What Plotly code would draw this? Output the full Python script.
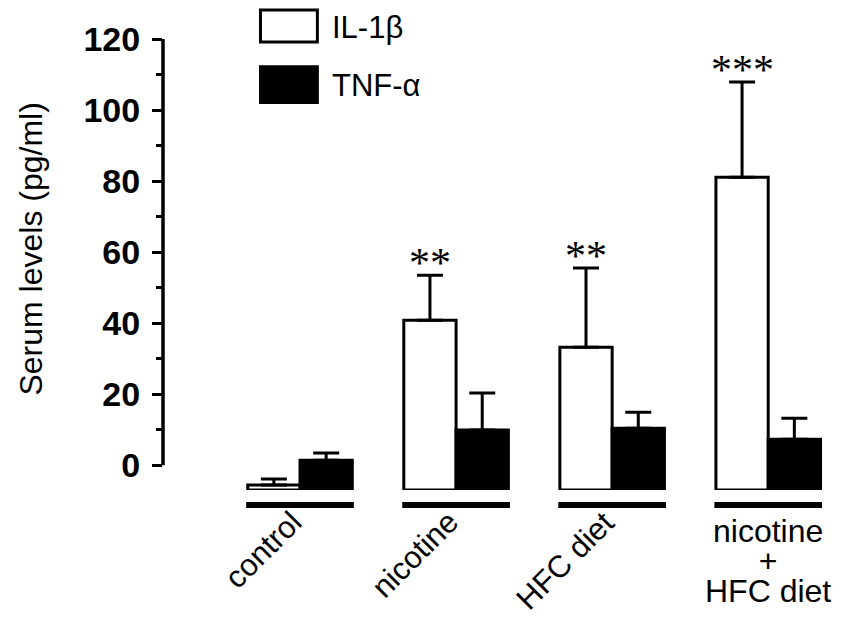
import plotly.graph_objects as go

groups = ["control", "nicotine", "HFC diet", "nicotine<br>+<br>HFC diet"]
il1b = [-5.6, 40.8, 33.2, 81.1]
il1b_err = [1.7, 12.7, 22.3, 26.8]
tnfa = [1.4, 9.9, 10.4, 7.3]
tnfa_err = [2.0, 10.4, 4.5, 5.9]
stars = ["", "**", "**", "***"]
y_ticks = [0, 20, 40, 60, 80, 100, 120]

y_base = -7
x = list(range(len(groups)))
font = "Arial, Liberation Sans, sans-serif"

fig = go.Figure()
fig.add_trace(go.Bar(
    x=x, y=[v - y_base for v in il1b], base=y_base, name="IL-1β",
    marker=dict(color="white", line=dict(color="black", width=3)),
    error_y=dict(type="data", array=il1b_err, arrayminus=[0] * 4, symmetric=False,
                 color="black", thickness=3, width=13),
    showlegend=False
))
fig.add_trace(go.Bar(
    x=x, y=[v - y_base for v in tnfa], base=y_base, name="TNF-α",
    marker=dict(color="black", line=dict(color="black", width=3)),
    error_y=dict(type="data", array=tnfa_err, arrayminus=[0] * 4, symmetric=False,
                 color="black", thickness=3, width=13),
    showlegend=False
))

# significance stars above the IL-1b error bars
for i, s in enumerate(stars):
    if s:
        fig.add_annotation(x=i, y=il1b[i] + il1b_err[i], xref="x", yref="y", text=s,
                           showarrow=False, xshift=-26, yanchor="bottom", yshift=-13,
                           font=dict(family="Liberation Serif, serif", size=42, color="black"))

# group underlines and labels
for i, g in enumerate(groups):
    fig.add_shape(type="line", xref="x", yref="paper", x0=i - 0.345, x1=i + 0.345,
                  y0=-0.033, y1=-0.033, line=dict(color="black", width=6))
    if "<br>" in g:
        # small base font keeps the line spacing tight, spans make the glyphs big
        txt = "<br>".join("<span style='font-size:32px'>%s</span>" % p for p in g.split("<br>"))
        fig.add_annotation(x=i, y=-0.045, xref="x", yref="paper", text=txt,
                           showarrow=False, xanchor="center", yanchor="top",
                           font=dict(family=font, size=23, color="black"))
    else:
        fig.add_annotation(x=i, y=-0.026, xref="x", yref="paper", text=g, showarrow=False,
                           textangle=-45, xanchor="right", yanchor="top", xshift=12,
                           font=dict(family=font, size=31, color="black"))

# y axis line only from 0 to 120
fig.add_shape(type="line", xref="paper", yref="y", x0=0, x1=0, y0=0, y1=120,
              line=dict(color="black", width=3.5))

# legend drawn by hand (large swatches)
fig.add_shape(type="rect", xref="paper", yref="paper", x0=0.144, x1=0.228, y0=0.978, y1=1.048,
              line=dict(color="black", width=3), fillcolor="white")
fig.add_shape(type="rect", xref="paper", yref="paper", x0=0.144, x1=0.228, y0=0.846, y1=0.924,
              line=dict(color="black", width=3), fillcolor="black")
fig.add_annotation(x=0.246, y=1.009, xref="paper", yref="paper", text="IL-1β", showarrow=False,
                   xanchor="left", yanchor="middle", font=dict(family=font, size=31, color="black"))
fig.add_annotation(x=0.246, y=0.884, xref="paper", yref="paper", text="TNF-α", showarrow=False,
                   xanchor="left", yanchor="middle", font=dict(family=font, size=31, color="black"))

fig.add_annotation(x=-0.195, y=61, xref="paper", yref="y", text="Serum levels (pg/ml)",
                   showarrow=False, textangle=-90, xanchor="center",
                   font=dict(family=font, size=32, color="black"))

# page body has an 8px margin, so the figure is 8px smaller and margins shifted
fig.update_layout(
    width=842, height=610,
    margin=dict(l=155, r=10, t=24, b=128),
    paper_bgcolor="white", plot_bgcolor="white",
    barmode="group", bargap=0.33, bargroupgap=0,
    xaxis=dict(range=[-0.878, 3.46], showticklabels=False, ticks="", showline=False,
               showgrid=False, zeroline=False),
    yaxis=dict(range=[y_base, 122], tickvals=y_ticks,
               ticktext=["<b>%d</b>" % t for t in y_ticks],
               ticks="outside", ticklen=10, tickwidth=3, tickcolor="black",
               ticklabelstandoff=5,
               minor=dict(dtick=10, ticks="outside", ticklen=6, tickwidth=3, tickcolor="black"),
               showline=False, showgrid=False, zeroline=False,
               tickfont=dict(family=font, size=34, color="black")),
)

fig.write_html("out.html")
